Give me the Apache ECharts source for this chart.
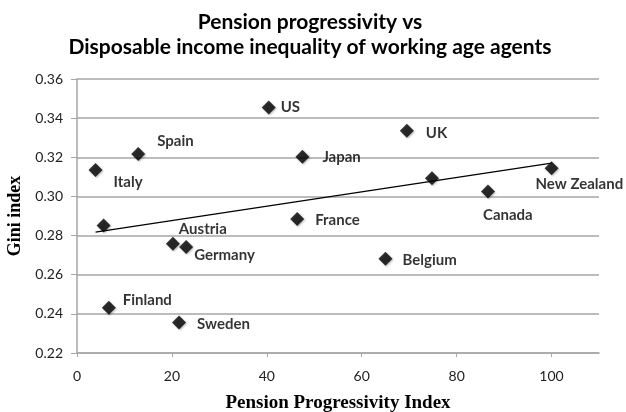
<!doctype html>
<html>
<head>
<meta charset="UTF-8">
<title>Pension progressivity vs Gini</title>
<script src="https://cdn.jsdelivr.net/npm/echarts@6/dist/echarts.min.js"></script>
<style>
  html, body { margin: 0; padding: 0; background: #fff; }
</style>
</head>
<body>
<div id="chart" style="width: 626px; height: 412px;"></div>
<script>
// data
var countries = ['US', 'Spain', 'Japan', 'Italy', '', 'Austria', 'Germany', 'France',
                 'Finland', 'Sweden', 'UK', '', 'New Zealand', 'Canada', 'Belgium'];
var progressivity = [40.4, 12.9, 47.5, 3.9, 5.6, 20.2, 23.0, 46.4,
                     6.7, 21.5, 69.5, 74.8, 100.0, 86.6, 65.0];
var gini = [0.3455, 0.3217, 0.3203, 0.3135, 0.2851, 0.2758, 0.2741, 0.2885,
            0.2431, 0.2356, 0.3336, 0.3093, 0.3144, 0.3025, 0.2681];
var trendX = [3.9, 100];
var trendY = [0.2818, 0.3170];
var xTicks = [0, 20, 40, 60, 80, 100];
var yTicks = [0.22, 0.24, 0.26, 0.28, 0.30, 0.32, 0.34, 0.36];

// where each data label sits relative to its point (pixels)
var labelOffsets = {
  'US': [0, 0], 'Spain': [7, -13], 'Japan': [8, 0], 'Italy': [6, 12],
  'Austria': [-6, -15], 'Germany': [-4, 8], 'France': [6, 1], 'Finland': [2, -8],
  'Sweden': [6, 2], 'UK': [7, 2], 'New Zealand': [-28, 16], 'Canada': [-17, 24],
  'Belgium': [5, 1]
};

var points = progressivity.map(function (x, i) {
  var name = countries[i];
  return {
    name: name,
    value: [x, gini[i]],
    label: { show: name !== '', offset: labelOffsets[name] || [0, 0] }
  };
});

var chart = echarts.init(document.getElementById('chart'));
var labelFont = 'Lato, "Open Sans", sans-serif';
var serifFont = '"Liberation Serif", "DejaVu Serif", serif';

chart.setOption({
  animation: false,
  title: {
    text: 'Pension progressivity vs\nDisposable income inequality of working age agents',
    left: 305, top: 5, textAlign: 'center',
    textStyle: { fontFamily: labelFont, fontSize: 21, fontWeight: 'bold', color: '#000', lineHeight: 25 }
  },
  grid: { left: 77, right: 27, top: 79, bottom: 59, outerBoundsMode: 'none', containLabel: false },
  xAxis: {
    type: 'value', min: 0, max: 110, interval: 20,
    name: 'Pension Progressivity Index', nameLocation: 'middle', nameGap: 41,
    nameTextStyle: { fontFamily: serifFont, fontSize: 19, fontWeight: 'bold', color: '#000' },
    axisLine: { show: true, lineStyle: { color: '#a6a6a6', width: 1.5 } },
    axisTick: { show: true, length: 4, inside: false, lineStyle: { color: '#a6a6a6' } },
    splitLine: { show: false },
    axisLabel: {
      fontFamily: labelFont, fontSize: 14, color: '#222', margin: 16,
      showMaxLabel: false,
      formatter: function (v) { return xTicks.indexOf(v) >= 0 ? String(v) : ''; }
    }
  },
  yAxis: {
    type: 'value', min: 0.22, max: 0.36, interval: 0.02,
    name: 'Gini index', nameLocation: 'middle', nameGap: 48, nameRotate: 90,
    nameTextStyle: { fontFamily: serifFont, fontSize: 18, fontWeight: 'bold', color: '#000' },
    axisLine: { show: true, lineStyle: { color: '#a6a6a6', width: 1.5 } },
    axisTick: { show: true, length: 6, lineStyle: { color: '#a6a6a6' } },
    splitLine: { show: true, lineStyle: { color: '#a6a6a6', width: 1.5 } },
    axisLabel: {
      fontFamily: labelFont, fontSize: 14, color: '#222', margin: 14,
      formatter: function (v) {
        var t = Math.round(v * 100) / 100;
        return yTicks.indexOf(t) >= 0 ? t.toFixed(2) : '';
      }
    }
  },
  series: [
    {
      type: 'line',
      data: trendX.map(function (x, i) { return [x, trendY[i]]; }),
      symbol: 'none',
      lineStyle: { color: '#000', width: 1.3 },
      z: 2
    },
    {
      type: 'scatter',
      data: points,
      symbol: 'diamond',
      symbolSize: [14, 14],
      itemStyle: { color: '#000', shadowColor: 'rgba(0,0,0,0.35)', shadowBlur: 2, shadowOffsetX: 1, shadowOffsetY: 1 },
      label: {
        position: 'right', distance: 5,
        formatter: '{b}',
        fontFamily: labelFont, fontSize: 15, fontWeight: 'bold', color: '#000'
      },
      z: 3
    }
  ]
});
</script>
</body>
</html>
